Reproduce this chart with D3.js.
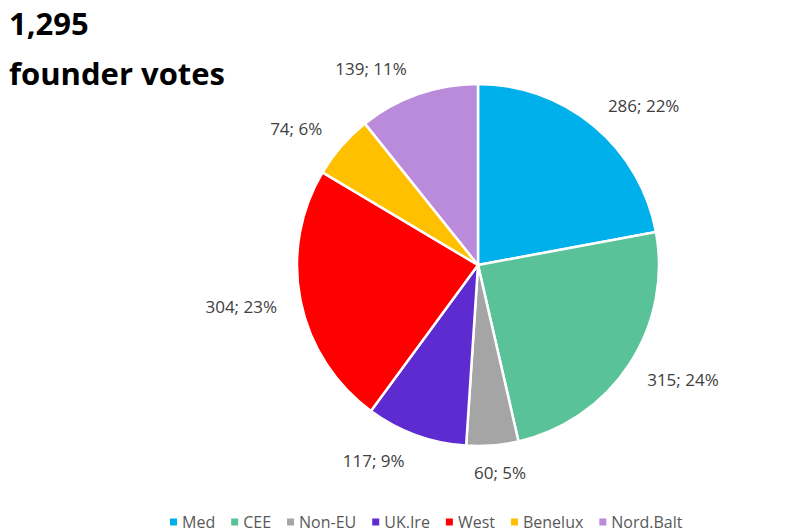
<!DOCTYPE html>
<html><head><meta charset="utf-8">
<script src="https://cdn.jsdelivr.net/npm/d3@7"></script>
<style>body{margin:0;background:#fff;}svg{display:block;}</style>
</head><body>
<script>
const categories = ["Med","CEE","Non-EU","UK.Ire","West","Benelux","Nord.Balt"];
const values = [286,315,60,117,304,74,139];
const colors = ["#00B0EA","#5AC299","#A5A5A5","#5E2BD0","#FF0000","#FFC000","#B98BDA"];
const titleLines = ["1,295","founder votes"];

const W=796,H=532,cx=478,cy=265,R=181;
const svg=d3.select("body").append("svg").attr("width",W).attr("height",H);
const total=d3.sum(values);
const data=categories.map((c,i)=>({cat:c,value:values[i],color:colors[i]}));
const pie=d3.pie().value(d=>d.value).sort(null);
const arcs=pie(data);
const arc=d3.arc().innerRadius(0).outerRadius(R);
const g=svg.append("g").attr("transform",`translate(${cx},${cy})`);
g.selectAll("path").data(arcs).join("path").attr("d",arc).attr("fill",d=>d.data.color)
 .attr("stroke","#fff").attr("stroke-width",2.5).attr("stroke-linejoin","round");

const lr=200;
g.selectAll("text.lbl").data(arcs).join("text").attr("class","lbl")
 .each(function(d){
   const a=(d.startAngle+d.endAngle)/2, s=Math.sin(a), c=Math.cos(a);
   const x=lr*s + (s>0.3?2:(s<-0.3?-5:6)), y=-lr*c - c*8;
   const anchor = s>0.3?"start":(s<-0.3?"end":"middle");
   d3.select(this).attr("x",x).attr("y",y).attr("text-anchor",anchor).attr("dominant-baseline","central");
 })
 .attr("font-family","'Open Sans', 'Noto Sans', sans-serif").attr("font-size",17).attr("fill","#404040")
 .text(d=>`${d.value}; ${Math.round(d.value/total*100)}%`);

svg.selectAll("text.title").data(titleLines).join("text").attr("class","title")
 .attr("x",9).attr("y",(d,i)=>35+i*50)
 .attr("font-family","'Open Sans', 'Noto Sans', sans-serif").attr("font-weight","bold").attr("font-size",31).attr("fill","#000")
 .text(d=>d);

// legend
const leg=svg.append("g").attr("transform","translate(170,522)");
let xo=0;
data.forEach((d,i)=>{
  const it=leg.append("g").attr("transform",`translate(${xo},0)`);
  it.append("rect").attr("x",0).attr("y",-3.5).attr("width",7).attr("height",7).attr("fill",d.color);
  const t=it.append("text").attr("x",12).attr("y",0).attr("dominant-baseline","central")
   .attr("font-family","'Open Sans', 'Noto Sans', sans-serif").attr("font-size",16).attr("fill","#595959").text(d.cat);
  xo+=12+t.node().getComputedTextLength()+16;
});
</script>
</body></html>
